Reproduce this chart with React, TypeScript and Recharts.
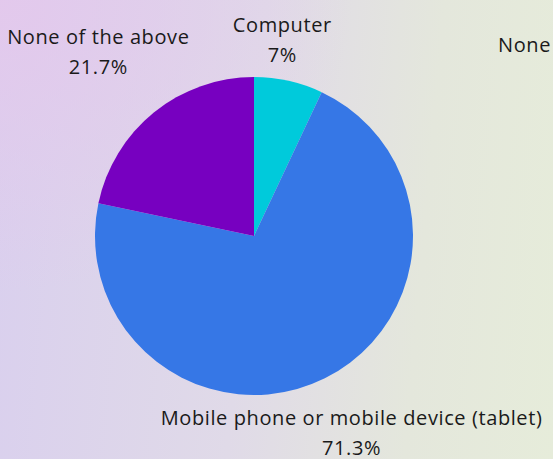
import React from "react";
import { PieChart, Pie, Cell } from "recharts";

const categories = ["Computer", "Mobile phone or mobile device (tablet)", "None of the above"];
const shares = [7, 71.3, 21.7];
const shareLabels = ["7%", "71.3%", "21.7%"];
const colors = ["#00CADB", "#3677E6", "#7700C0"];
const cutLegendText = "None";

const data = categories.map((name, i) => ({ name, value: shares[i], text: shareLabels[i] }));

// label layout: radial distance beyond the pie and horizontal nudge
const LABEL_LAYOUT = [
  { extra: 35, dx: -14 },
  { extra: 69, dx: -4 },
  { extra: 69, dx: -12 },
];

const FONT = "'Open Sans', 'DejaVu Sans', sans-serif";
const FONT_SIZE = 20;
const LETTER_SPACING = 0.6;
const RAD = Math.PI / 180;

const renderLabel = (props: any) => {
  const { cx, cy, midAngle, outerRadius, index } = props;
  const lay = LABEL_LAYOUT[index];
  const r = outerRadius + lay.extra;
  const x = cx + r * Math.cos(-midAngle * RAD) + lay.dx;
  const y = cy + r * Math.sin(-midAngle * RAD);
  const common = {
    x,
    textAnchor: "middle" as const,
    fontFamily: FONT,
    fontSize: FONT_SIZE,
    letterSpacing: LETTER_SPACING,
    fill: "#1a1a1a",
  };
  return (
    <g key={`lbl-${index}`}>
      <text {...common} y={y - 15}>
        {data[index].name}
      </text>
      <text {...common} y={y + 15}>
        {data[index].text}
      </text>
    </g>
  );
};

export default function App() {
  return (
    <div
      style={{
        position: "fixed",
        left: 0,
        top: 0,
        width: 553,
        height: 459,
        overflow: "hidden",
        background:
          "radial-gradient(ellipse at 0% 0%, rgba(228,200,236,0.9) 0%, rgba(228,200,236,0) 45%), linear-gradient(95deg, #d9cfee 0%, #e0dae8 45%, #e4e7dc 75%, #e6ecda 100%)",
      }}
    >
      <PieChart width={553} height={459} margin={{ top: 0, right: 0, bottom: 0, left: 0 }}>
        <Pie
          data={data}
          dataKey="value"
          nameKey="name"
          cx={254}
          cy={236}
          outerRadius={159}
          startAngle={90}
          endAngle={-270}
          stroke="none"
          labelLine={false}
          label={renderLabel}
          isAnimationActive={false}
        >
          {data.map((d, i) => (
            <Cell key={d.name} fill={colors[i]} />
          ))}
        </Pie>
      </PieChart>
      <div
        style={{
          position: "absolute",
          left: 498,
          top: 32,
          fontFamily: FONT,
          fontSize: FONT_SIZE,
          letterSpacing: LETTER_SPACING,
          color: "#1a1a1a",
          lineHeight: "26px",
          whiteSpace: "nowrap",
        }}
      >
        {cutLegendText}
      </div>
    </div>
  );
}
